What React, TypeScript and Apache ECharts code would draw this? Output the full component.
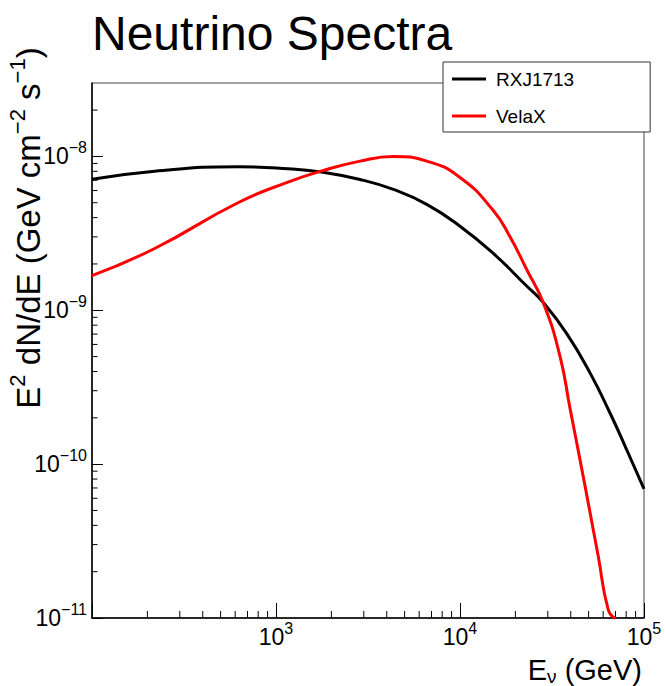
import React, { useEffect, useRef } from 'react';
import * as echarts from 'echarts';

// ---- data ----
const seriesNames = ['RXJ1713', 'VelaX'];
const energyRXJ = [100, 219, 621, 1161, 1757, 2863, 4341, 6592, 10000, 15170, 23040, 28370, 38020, 50880, 65350, 80540, 100000];
const fluxRXJ = [7.1e-9, 8.02e-9, 8.57e-9, 8.32e-9, 7.91e-9, 7.08e-9, 6.1e-9, 4.88e-9, 3.52e-9, 2.34e-9, 1.437e-9, 1.122e-9, 7.05e-10, 3.92e-10, 2.15e-10, 1.24e-10, 6.9e-11];
const energyVela = [100, 219, 621, 1161, 1757, 2863, 4341, 6592, 10000, 15170, 18700, 23040, 28370, 34960, 39630, 44890, 51980, 56440, 63970, 70000];
const fluxVela = [1.68e-9, 2.52e-9, 5.0e-9, 6.81e-9, 8.02e-9, 9.32e-9, 1.0e-8, 9.32e-9, 7.3e-9, 4.45e-9, 3.0e-9, 1.84e-9, 1.117e-9, 5.02e-10, 2.3e-10, 1.07e-10, 4.24e-11, 2.51e-11, 1.13e-11, 9.9e-12];
const xMinorTicks = [200, 300, 400, 500, 600, 700, 800, 900, 2000, 3000, 4000, 5000, 6000, 7000, 8000, 9000, 20000, 30000, 40000, 50000, 60000, 70000, 80000, 90000];
const yMinorTicks = [2e-11, 3e-11, 4e-11, 5e-11, 6e-11, 7e-11, 8e-11, 9e-11, 2e-10, 3e-10, 4e-10, 5e-10, 6e-10, 7e-10, 8e-10, 9e-10, 2e-9, 3e-9, 4e-9, 5e-9, 6e-9, 7e-9, 8e-9, 9e-9, 2e-8];
const xRange = [100, 100000];
const yRange = [1e-11, 3e-8];
const titleText = 'Neutrino Spectra';

const FONT = '"Liberation Sans", Arial, Helvetica, sans-serif';

const isPow10 = (v: number) => Math.abs(Math.log10(v) - Math.round(Math.log10(v))) < 1e-6;
const powLabel = (v: number) => {
  if (!isPow10(v)) return '';
  const e = Math.round(Math.log10(v));
  const s = e < 0 ? '\u2212' + String(-e) : String(e);
  return `{b|10}{s|${s}}`;
};
const labelRich = {
  b: { fontSize: 23, lineHeight: 24, fontFamily: FONT, color: '#000', verticalAlign: 'middle' },
  s: { fontSize: 16, lineHeight: 16, fontFamily: FONT, color: '#000', verticalAlign: 'middle', padding: [0, 0, 18, 0] },
};

export default function App() {
  const ref = useRef<HTMLDivElement>(null);
  useEffect(() => {
    if (!ref.current) return;
    const chart = echarts.init(ref.current, undefined, { renderer: 'svg' });
    const option: any = {
      animation: false,
      backgroundColor: '#fff',
      title: {
        text: titleText,
        left: 87,
        top: 4,
        textStyle: { fontSize: 48, fontWeight: 'normal', fontFamily: FONT, color: '#000' },
      },
      grid: {
        left: 92, top: 83, right: 21, bottom: 68,
        show: true, borderColor: '#444', borderWidth: 1, backgroundColor: 'transparent',
      },
      legend: {
        data: seriesNames,
        orient: 'vertical',
        left: 443,
        top: 62,
        padding: [6, 76, 5, 9],
        itemGap: 15,
        itemWidth: 34,
        itemHeight: 3,
        icon: 'rect',
        backgroundColor: '#fff',
        borderColor: '#333',
        borderWidth: 1,
        textStyle: { fontSize: 19, lineHeight: 22, fontFamily: FONT, color: '#000', padding: [0, 0, 0, 5] },
      },
      xAxis: {
        type: 'log', logBase: 10, min: xRange[0], max: xRange[1],
        axisLine: { lineStyle: { color: '#000', width: 1.5 } },
        axisTick: { inside: true, length: 15, lineStyle: { color: '#000', width: 1 } },
        splitLine: { show: false },
        axisLabel: {
          margin: 7,
          formatter: (v: number) => (v <= xRange[0] * 1.0001 ? '' : powLabel(v)),
          rich: labelRich,
        },
      },
      yAxis: {
        type: 'log', logBase: 10, min: yRange[0], max: yRange[1],
        axisLine: { lineStyle: { color: '#000', width: 1.5 } },
        axisTick: { inside: true, length: 11, lineStyle: { color: '#000', width: 1 } },
        splitLine: { show: false },
        axisLabel: {
          margin: 5,
          showMaxLabel: false,
          formatter: (v: number) => powLabel(v),
          rich: labelRich,
        },
      },
      graphic: [
        {
          type: 'text',
          x: 28, y: 228,
          rotation: Math.PI / 2,
          style: {
            text: '{m|E}{s|2}{m| dN/dE (GeV cm}{s|\u22122}{m| s}{s|\u22121}{m|)}',
            align: 'center',
            verticalAlign: 'middle',
            rich: {
              m: { fontSize: 33, lineHeight: 36, fontFamily: FONT, fill: '#000', verticalAlign: 'middle' },
              s: { fontSize: 22, lineHeight: 22, fontFamily: FONT, fill: '#000', verticalAlign: 'middle', padding: [0, 0, 22, 0] },
            },
          },
        },
        {
          type: 'text',
          x: 642, y: 670,
          style: {
            text: '{m|E}{u|\u03bd}{m| (GeV)}',
            align: 'right',
            verticalAlign: 'middle',
            rich: {
              m: { fontSize: 29, lineHeight: 26, fontFamily: FONT, fill: '#000', verticalAlign: 'middle' },
              u: { fontSize: 19, lineHeight: 14, fontFamily: FONT, fill: '#000', verticalAlign: 'middle', padding: [12, 0, 0, 0] },
            },
          },
        },
      ],
      series: [
        {
          name: seriesNames[0], type: 'line', symbol: 'none', smooth: 0.5,
          data: energyRXJ.map((e, i) => [e, fluxRXJ[i]]),
          lineStyle: { color: '#000', width: 3 }, itemStyle: { color: '#000' }, z: 5,
        },
        {
          name: seriesNames[1], type: 'line', symbol: 'none', smooth: 0.5,
          data: energyVela.map((e, i) => [e, fluxVela[i]]),
          lineStyle: { color: '#ff0000', width: 3 }, itemStyle: { color: '#ff0000' }, z: 6,
        },
        {
          type: 'custom', name: 'xminor', silent: true, clip: false, z: 3,
          data: xMinorTicks.map((v) => [v, yRange[0]]),
          encode: { x: 0, y: 1 },
          renderItem: (params: any, api: any) => {
            const p = api.coord([api.value(0), api.value(1)]);
            return { type: 'line', shape: { x1: p[0], y1: p[1], x2: p[0], y2: p[1] - 7 }, style: { stroke: '#000', lineWidth: 1 } };
          },
        },
        {
          type: 'custom', name: 'yminor', silent: true, clip: false, z: 3,
          data: yMinorTicks.map((v) => [xRange[0], v]),
          encode: { x: 0, y: 1 },
          renderItem: (params: any, api: any) => {
            const p = api.coord([api.value(0), api.value(1)]);
            return { type: 'line', shape: { x1: p[0], y1: p[1], x2: p[0] + 5.5, y2: p[1] }, style: { stroke: '#000', lineWidth: 1 } };
          },
        },
      ],
    };
    chart.setOption(option);
    return () => chart.dispose();
  }, []);
  return <div ref={ref} style={{ position: 'fixed', left: 0, top: 0, width: 665, height: 686 }} />;
}
